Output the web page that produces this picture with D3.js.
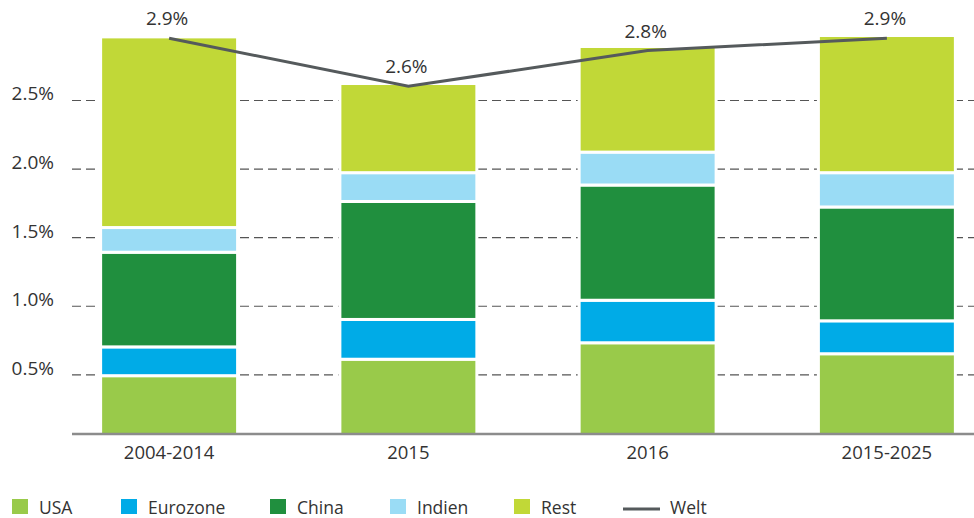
<!DOCTYPE html>
<html lang="de">
<head>
<meta charset="utf-8">
<script src="https://cdn.jsdelivr.net/npm/d3@7"></script>
<style type="text/css">
body {
	margin: 0;
	background: #fff;
	font-family: "Open Sans", sans-serif;
}
.tick text {
	fill: #333;
}
</style>
</head>
<body>
<script type="text/javascript">

// values (percent)
var categories = ["2004-2014", "2015", "2016", "2015-2025"];
var usa      = [0.49, 0.61, 0.73, 0.65];
var eurozone = [0.21, 0.29, 0.31, 0.24];
var china    = [0.69, 0.86, 0.84, 0.83];
var indien   = [0.18, 0.21, 0.24, 0.25];
var rest     = [1.39, 0.65, 0.77, 1.00];
var welt     = [2.95, 2.60, 2.86, 2.95];
var weltLabels = ["2.9%", "2.6%", "2.8%", "2.9%"];
var yTicks = [0.5, 1.0, 1.5, 2.0, 2.5];

var seriesNames = ["USA", "Eurozone", "China", "Indien", "Rest"];
var colors = ["#99ca4a", "#00abe7", "#208f3e", "#9adcf5", "#c1d837"];

var width = 974;
var height = 518;
var plotLeft = 72;
var baseY = 434;

var rows = categories.map(function(c, i) {
	return {cat: c, USA: usa[i], Eurozone: eurozone[i], China: china[i], Indien: indien[i], Rest: rest[i]};
});

var svg = d3.select("body")
			.append("svg")
			.attr("width", width)
			.attr("height", height);

var x = d3.scaleBand()
		  .domain(categories)
		  .range([-19, 1075])
		  .paddingInner(0.4275)
		  .paddingOuter(0.5);

var y = d3.scaleLinear()
		  .domain([0, 3])
		  .range([442.9, 31.4]);

// dashed grid + y labels
var yAxis = svg.append("g")
	.attr("transform", "translate(" + plotLeft + ",0)")
	.call(d3.axisLeft(y)
		.tickValues(yTicks)
		.tickSize(-(width - plotLeft))
		.tickPadding(18)
		.tickFormat(function(d) { return d.toFixed(1) + "%"; }));
yAxis.select(".domain").remove();
yAxis.selectAll(".tick line")
	.attr("stroke", "#555")
	.attr("stroke-width", 1.2)
	.attr("stroke-dasharray", "9,5");
yAxis.selectAll(".tick text")
	.attr("dy", "0")
	.style("font-size", "19px")
	.style("font-family", "'Open Sans', sans-serif");

// stacked bars
var stack = d3.stack().keys(seriesNames);
var layers = stack(rows);

svg.append("g")
	.selectAll("g")
	.data(layers)
	.enter()
	.append("g")
	.attr("fill", function(d, i) { return colors[i]; })
	.selectAll("rect")
	.data(function(d) { return d; })
	.enter()
	.append("rect")
	.attr("x", function(d) { return x(d.data.cat); })
	.attr("width", x.bandwidth())
	.attr("y", function(d) { return y(d[1]); })
	.attr("height", function(d) { return Math.min(baseY + 1.5, y(d[0])) - y(d[1]); })
	.attr("stroke", "#fff")
	.attr("stroke-width", 3);

// baseline
svg.append("line")
	.attr("x1", plotLeft)
	.attr("x2", width)
	.attr("y1", baseY)
	.attr("y2", baseY)
	.attr("stroke", "#8c8c8c")
	.attr("stroke-width", 2.5);

// category labels
var xAxis = svg.append("g")
	.attr("transform", "translate(0," + baseY + ")")
	.call(d3.axisBottom(x).tickSize(0).tickPadding(12));
xAxis.select(".domain").remove();
xAxis.selectAll(".tick text")
	.style("font-size", "18.5px")
	.style("font-family", "'Open Sans', sans-serif");

// Welt line
var cx = function(i) { return x(categories[i]) + x.bandwidth() / 2; };
var line = d3.line()
	.x(function(d, i) { return cx(i); })
	.y(function(d) { return y(d); });

svg.append("path")
	.datum(welt)
	.attr("d", line)
	.attr("fill", "none")
	.attr("stroke", "#555a5c")
	.attr("stroke-width", 3);

svg.selectAll("text.welt")
	.data(welt)
	.enter()
	.append("text")
	.attr("class", "welt")
	.attr("x", function(d, i) { return cx(i) - 2; })
	.attr("y", function(d) { return y(d) - 13; })
	.attr("text-anchor", "middle")
	.style("font-size", "19px")
	.style("fill", "#333")
	.text(function(d, i) { return weltLabels[i]; });

// legend
var legendX = [12, 121, 270, 390, 514];
var legend = svg.append("g").attr("transform", "translate(0,499)");
seriesNames.forEach(function(name, i) {
	legend.append("rect")
		.attr("x", legendX[i])
		.attr("y", 0)
		.attr("width", 16)
		.attr("height", 15)
		.attr("fill", colors[i]);
	legend.append("text")
		.attr("x", legendX[i] + 27)
		.attr("y", 15)
		.style("font-size", "17.5px")
		.style("fill", "#333")
		.text(name);
});
legend.append("line")
	.attr("x1", 623)
	.attr("x2", 660)
	.attr("y1", 10)
	.attr("y2", 10)
	.attr("stroke", "#555a5c")
	.attr("stroke-width", 3);
legend.append("text")
	.attr("x", 670)
	.attr("y", 15)
	.style("font-size", "17.5px")
	.style("fill", "#333")
	.text("Welt");

</script>
</body>
</html>
